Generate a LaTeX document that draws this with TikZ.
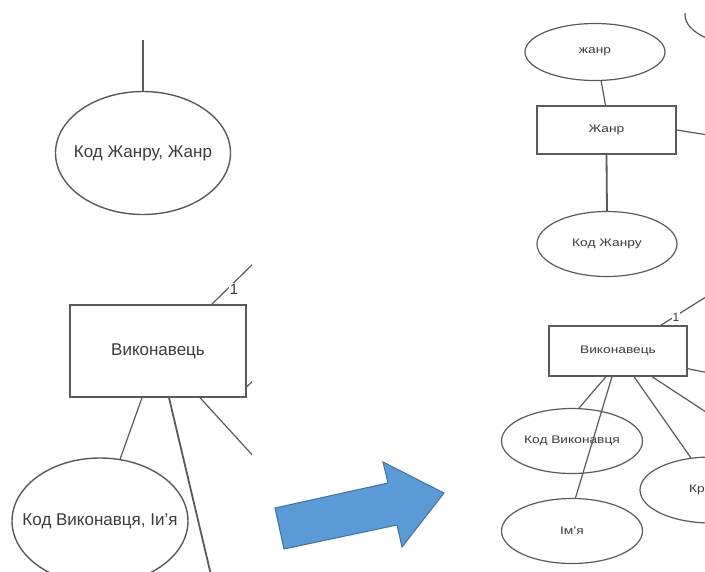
\documentclass[tikz,border=0pt]{standalone}
\usepackage{fontspec}
\setmainfont{Liberation Sans}
\usetikzlibrary{shapes.geometric}
\definecolor{lineg}{HTML}{5A5A5A}
\definecolor{txtg}{HTML}{3C3C3C}
\definecolor{arrfill}{HTML}{5B9BD5}
\definecolor{arrdraw}{HTML}{41719C}
\tikzset{
  bigell/.style={draw=lineg, line width=1.4pt, ellipse, inner sep=0pt},
  bigtxt/.style={text=txtg, inner sep=0pt, font=\fontsize{17}{19}\selectfont},
  bigrect/.style={draw=lineg, line width=1.4pt, rectangle, inner sep=0pt, text=txtg, font=\fontsize{17}{19}\selectfont},
  smell/.style={draw=lineg, line width=1.2pt, ellipse, inner sep=0pt},
  smtxt/.style={text=txtg, inner sep=0pt, font=\fontsize{11}{13}\selectfont},
  smrect/.style={draw=lineg, line width=1.3pt, rectangle, inner sep=0pt, text=txtg, font=\fontsize{11}{13}\selectfont},
  conn/.style={draw=lineg, line width=1.2pt},
  thickconn/.style={draw=lineg, line width=1.8pt},
  cardlbl/.style={fill=white, inner sep=0.5pt, text=txtg},
}
\newcommand{\wide}[1]{\scalebox{1.25}[1]{#1}}
\begin{document}
\begin{tikzpicture}[x=1pt,y=-1pt]
\useasboundingbox (0,0) rectangle (705,571);
\fill[white] (0,0) rectangle (705,571);
% ---------------- left panel ----------------
\begin{scope}
\clip (0,0) rectangle (252,571);
\node[bigell, minimum width=175pt, minimum height=123pt,
      label={[bigtxt]center:Код Жанру, Жанр}] (E1) at (143,153) {};
\coordinate (top1) at (143,40);
\draw[thickconn] (top1) -- (E1.north);
\node[bigrect, minimum width=176pt, minimum height=92pt] (R1) at (158,351) {Виконавець};
\node[bigell, minimum width=176pt, minimum height=126pt,
      label={[bigtxt]center:Код Виконавця, Іи'я}] (E2) at (100,521) {};
\coordinate (c1) at (256,261);
\coordinate (c2) at (211,575);
\coordinate (c3) at (256,459);
\coordinate (c4) at (256,378);
\draw[conn] ([xshift=-35pt]R1.north east) -- (c1);
\node[cardlbl, font=\fontsize{15}{17}\selectfont] (one1) at (234,289) {1};
\draw[conn] ([yshift=11pt]R1.south east) -- (c4);
\draw[conn] ([xshift=-16pt]R1.south) -- (E2.72);
\draw[thickconn] ([xshift=11pt]R1.south) -- (c2);
\draw[conn] ([xshift=42pt]R1.south) -- (c3);
\end{scope}
% ---------------- arrow ----------------
\draw[fill=arrfill, draw=arrdraw, line width=1pt, line join=miter]
  (275,508) -- (388,483) -- (383,462) -- (444,493) -- (402,547) -- (397,525) -- (284,549) -- cycle;
% ---------------- right panel ----------------
\begin{scope}
\clip (490,13) rectangle (705,571);
\node[smell, minimum width=140pt, minimum height=64pt] (E0) at (755,15) {};
\node[smell, minimum width=140pt, minimum height=57pt,
      label={[smtxt]center:\wide{жанр}}] (E3) at (595,52) {};
\node[smrect, minimum width=139pt, minimum height=48pt] (R3) at (606.5,130) {\wide{Жанр}};
\node[smell, minimum width=140pt, minimum height=65pt,
      label={[smtxt]center:\wide{Код Жанру}}] (E4) at (607,244) {};
\coordinate (d1) at (708,135);
\draw[conn] (E3.-78) -- ([xshift=-1pt]R3.north);
\draw[conn] (R3.east) -- (d1);
\draw[thickconn] (R3.south) -- (E4.north);
\node[smrect, minimum width=138pt, minimum height=50pt] (R4) at (618,351) {\wide{Виконавець}};
\node[smell, minimum width=141pt, minimum height=65pt,
      label={[smtxt]center:\wide{Код Виконавця}}] (E5) at (572,441) {};
\node[smell, minimum width=141pt, minimum height=65pt,
      label={[smtxt]center:\wide{Ім'я}}] (E6) at (572,531) {};
\node[smell, minimum width=142pt, minimum height=66pt] (E7) at (711,490) {};
\node[smtxt, anchor=west] (krt) at (689,490) {\wide{Кр}};
\coordinate (d2) at (709,295);
\coordinate (d3) at (709,373);
\coordinate (d4) at (709,414);
\draw[conn] ([xshift=-27pt]R4.north east) -- (d2);
\node[cardlbl, font=\fontsize{12}{14}\selectfont] (one2) at (676,317) {1};
\draw[conn] ([yshift=8pt]R4.south east) -- (d3);
\draw[conn] ([xshift=-12pt]R4.south) -- (E5.78);
\draw[conn] ([xshift=-6pt]R4.south) -- (E6.84);
\draw[conn] ([xshift=16pt]R4.south) -- (E7.122);
\draw[conn] ([xshift=34pt]R4.south) -- (d4);
\end{scope}
\end{tikzpicture}
\end{document}
